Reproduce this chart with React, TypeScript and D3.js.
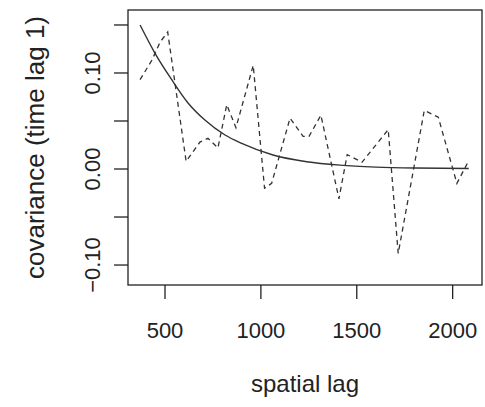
import React from "react";
import * as d3 from "d3";

// Empirical covariance (dashed line)
const lagX = [370, 432, 474, 514, 610, 682, 724, 776, 822, 870, 960, 1019, 1056, 1152, 1220, 1251, 1313, 1407, 1450, 1508, 1527, 1664, 1716, 1852, 1925, 2022, 2082];
const covY = [0.093, 0.1135, 0.132, 0.1427, 0.008, 0.028, 0.032, 0.022, 0.067, 0.043, 0.108, -0.02, -0.015, 0.053, 0.034, 0.034, 0.056, -0.031, 0.015, 0.009, 0.007, 0.041, -0.088, 0.061, 0.054, -0.015, 0.008];

// Fitted covariance model (solid line)
const fitX = [370, 448, 535, 620, 708, 813, 900, 1063, 1239, 1412, 1600, 1800, 2084];
const fitY = [0.15, 0.1205, 0.093, 0.0688, 0.051, 0.0354, 0.0267, 0.0146, 0.0076, 0.004, 0.002, 0.001, 0.0005];

const xTicks = [500, 1000, 1500, 2000];
const xTickLabels = ["500", "1000", "1500", "2000"];
const yTicks = [-0.1, -0.05, 0, 0.05, 0.1, 0.15];
const yTickLabels = ["−0.10", "", "0.00", "", "0.10", ""];

const xTitle = "spatial lag";
const yTitle = "covariance (time lag 1)";

export default function App() {
  const W = 485, H = 407;
  const L = 128, R = 482, T = 10, B = 285;
  const x = d3.scaleLinear().domain([307, 2153]).range([L, R]);
  const y = d3.scaleLinear().domain([-0.1208, 0.1656]).range([B, T]);

  const empPts: [number, number][] = lagX.map((v, i) => [v, covY[i]]);
  const fitPts: [number, number][] = fitX.map((v, i) => [v, fitY[i]]);
  const lineGen = d3.line<[number, number]>().x(d => x(d[0])).y(d => y(d[1]));
  const fitGen = d3.line<[number, number]>().x(d => x(d[0])).y(d => y(d[1])).curve(d3.curveMonotoneX);

  const font = "'Liberation Sans', Arial, Helvetica, sans-serif";
  const col = "#222";

  return (
    <svg width={W} height={H} style={{ position: "absolute", left: 0, top: 0, background: "#fff" }} fontFamily={font}>
      <rect x={0} y={0} width={W} height={H} fill="#fff" />
      <path d={lineGen(empPts) || ""} fill="none" stroke="#333" strokeWidth={1.3} strokeDasharray="5,4" />
      <path d={fitGen(fitPts) || ""} fill="none" stroke="#333" strokeWidth={1.4} />
      <rect x={L} y={T} width={R - L} height={B - T} fill="none" stroke={col} strokeWidth={1.3} />
      {xTicks.map((t, i) => (
        <g key={"xt" + i}>
          <line x1={x(t)} x2={x(t)} y1={B} y2={B + 14} stroke={col} strokeWidth={1.3} />
          <text x={x(t)} y={338} textAnchor="middle" fontSize={22} fill={col}>{xTickLabels[i]}</text>
        </g>
      ))}
      {yTicks.map((t, i) => (
        <g key={"yt" + i}>
          <line x1={L - 14} x2={L} y1={y(t)} y2={y(t)} stroke={col} strokeWidth={1.3} />
          {yTickLabels[i] && (
            <text transform={`translate(100,${y(t)}) rotate(-90)`} textAnchor="middle" fontSize={22} fill={col}>{yTickLabels[i]}</text>
          )}
        </g>
      ))}
      <text x={(L + R) / 2} y={392} textAnchor="middle" fontSize={24} fill={col}>{xTitle}</text>
      <text transform={`translate(44,${(T + B) / 2}) rotate(-90)`} textAnchor="middle" fontSize={26} fill={col}>{yTitle}</text>
    </svg>
  );
}
